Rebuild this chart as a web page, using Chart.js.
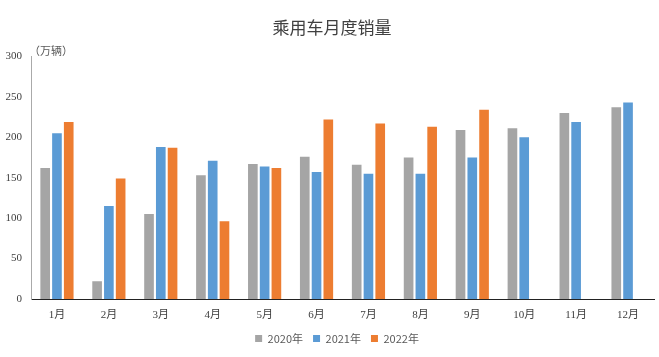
<!DOCTYPE html>
<html><head><meta charset="utf-8">
<script src="https://cdn.jsdelivr.net/npm/chart.js@4/dist/chart.umd.min.js"></script>
<style>html,body{margin:0;padding:0;background:#fff}#wrap{width:659px;height:357px}</style>
</head><body><div id="wrap"><canvas id="c" width="659" height="357"></canvas></div>
<script>
const months = ['1月','2月','3月','4月','5月','6月','7月','8月','9月','10月','11月','12月'];
const sales2020 = [162, 22, 105, 153, 167, 176, 166, 175, 209, 211, 230, 237];
const sales2021 = [205, 115, 188, 171, 164, 157, 155, 155, 175, 200, 219, 243];
const sales2022 = [219, 149, 187, 96, 162, 222, 217, 213, 234, null, null, null];
const yTicks = [0, 50, 100, 150, 200, 250, 300];
const titleText = '乘用车月度销量';
const unitText = '（万辆）';

const unitPlugin = {
  id: 'unitLabel',
  afterLayout(chart) {
    if (chart.legend) { chart.legend.left += 10; chart.legend.right += 10; }
    if (chart.titleBlock) { chart.titleBlock.left += 5; chart.titleBlock.right += 5; }
  },
  afterDraw(chart) {
    const ctx = chart.ctx, a = chart.chartArea;
    ctx.save();
    ctx.font = '11px "Noto Sans CJK SC"';
    ctx.fillStyle = '#595959';
    ctx.textAlign = 'left';
    ctx.textBaseline = 'middle';
    ctx.fillText(unitText, a.left - 2, a.top - 6);
    ctx.restore();
  }
};

const axisFont = {family: '"Liberation Serif", "Noto Sans CJK SC"', size: 11};
new Chart(document.getElementById('c'), {
  type: 'bar',
  data: {
    labels: months,
    datasets: [
      {label: '2020年', data: sales2020, backgroundColor: '#A5A5A5'},
      {label: '2021年', data: sales2021, backgroundColor: '#5B9BD5'},
      {label: '2022年', data: sales2022, backgroundColor: '#ED7D31'}
    ]
  },
  options: {
    responsive: false,
    animation: false,
    devicePixelRatio: 1,
    categoryPercentage: 0.68,
    barPercentage: 0.82,
    layout: {padding: {left: 0, right: 5, top: 0, bottom: 3}},
    plugins: {
      title: {display: true, text: titleText, color: '#404040',
        font: {family: '"Noto Sans CJK SC"', size: 17, weight: 'normal'},
        padding: {top: 17, bottom: 19}},
      legend: {position: 'bottom',
        labels: {boxWidth: 7, boxHeight: 7, padding: 10, color: '#595959',
          font: {family: '"Noto Sans CJK SC"', size: 11}}},
      tooltip: {enabled: false}
    },
    scales: {
      x: {
        afterFit(s) { s.height = 24; },
        grid: {display: false, drawTicks: false},
        border: {display: true, color: '#222', width: 1},
        ticks: {color: '#404040', font: axisFont, padding: 10, maxRotation: 0}
      },
      y: {
        min: 0, max: 300,
        afterBuildTicks(s) { s.ticks = yTicks.map(v => ({value: v})); },
        afterFit(s) { s.width = 31; },
        grid: {display: false, drawTicks: false},
        border: {display: true, color: '#AAAAAA', width: 1},
        ticks: {color: '#404040', font: axisFont, padding: 9}
      }
    }
  },
  plugins: [unitPlugin]
});
</script></body></html>
